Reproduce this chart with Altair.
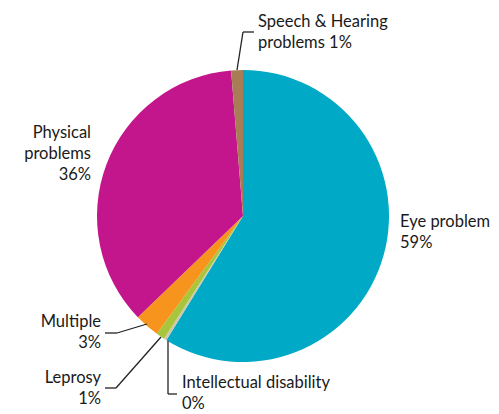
import altair as alt
import pandas as pd

# Slice data (percent shares, clockwise from 12 o'clock)
categories = ["Eye problem", "Intellectual disability", "Leprosy", "Multiple",
              "Physical problems", "Speech & Hearing problems"]
values = [58.8, 0.3, 0.95, 2.75, 35.9, 1.3]
colors = ["#00A9C6", "#CFC8AE", "#A8C63B", "#F7941E", "#C4168C", "#A87C55"]
order = [0, 1, 2, 3, 4, 5]

# Labels
label_texts = ["Eye problem\n59%", "Intellectual disability\n0%", "Leprosy\n1%",
               "Multiple\n3%", "Physical\nproblems\n36%", "Speech & Hearing\nproblems 1%"]
label_x = [392, 174, 93, 93, 83, 250]
label_y = [219, 380, 375, 319, 130, 19]
label_align = ["left", "left", "right", "right", "right", "left"]

# Leader lines (segments), page coords minus margin
seg_x = [229, 235, 97, 109, 97, 108, 160, 160]
seg_y = [62, 24, 325, 325, 380, 380, 333, 386]
seg_x2 = [235, 246, 109, 139, 108, 153, 160, 169]
seg_y2 = [24, 24, 325, 316, 380, 329, 386, 386]

W, H = 483, 405
CX, CY, R = 235, 208, 146

pie_df = pd.DataFrame({"category": categories, "value": values, "order": order})
lab_df = pd.DataFrame({"text": label_texts, "x": label_x, "y": label_y, "align": label_align})
seg_df = pd.DataFrame({"x": seg_x, "y": seg_y, "x2": seg_x2, "y2": seg_y2})

pie = alt.Chart(pie_df).mark_arc(outerRadius=R, stroke=None).encode(
    theta=alt.Theta("value:Q", stack=True),
    order=alt.Order("order:Q"),
    color=alt.Color("category:N", scale=alt.Scale(domain=categories, range=colors), legend=None),
    x=alt.value(CX),
    y=alt.value(CY),
)

segs = alt.Chart(seg_df).mark_rule(color="#222222", strokeWidth=1.3).encode(
    x=alt.X("x:Q", scale=None),
    y=alt.Y("y:Q", scale=None),
    x2="x2:Q",
    y2="y2:Q",
)

def text_layer(al):
    return alt.Chart(lab_df[lab_df["align"] == al]).mark_text(
        align=al, baseline="alphabetic", font="Lato", fontSize=16.5,
        lineBreak="\n", lineHeight=21, color="#1a1a1a"
    ).encode(
        x=alt.X("x:Q", scale=None),
        y=alt.Y("y:Q", scale=None),
        text="text:N",
    )

chart = alt.layer(pie, segs, text_layer("left"), text_layer("right")).properties(
    width=W, height=H, padding=0, autosize=alt.AutoSizeParams(type="none")
).configure_view(stroke=None)

chart.save("out.html", embed_options={"renderer": "svg", "actions": False})
